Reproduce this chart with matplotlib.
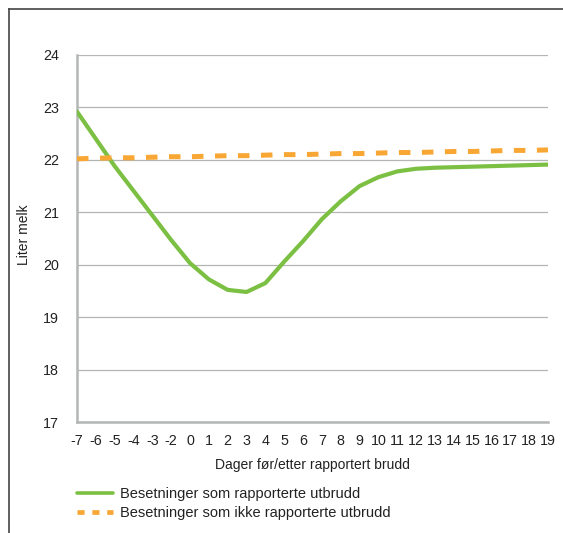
import matplotlib.pyplot as plt
from matplotlib.lines import Line2D
import numpy as np

plt.rcParams['font.family'] = ['Liberation Sans', 'DejaVu Sans']

# dager foer/etter rapportert brudd (aksen hopper over -1)
dager = ['-7', '-6', '-5', '-4', '-3', '-2', '0', '1', '2', '3', '4', '5', '6',
         '7', '8', '9', '10', '11', '12', '13', '14', '15', '16', '17', '18', '19']

# liter melk
med_utbrudd = [22.92, 22.40, 21.88, 21.41, 20.94, 20.47, 20.03, 19.72, 19.52,
               19.48, 19.65, 20.06, 20.45, 20.87, 21.21, 21.50, 21.67, 21.78,
               21.83, 21.85, 21.86, 21.87, 21.88, 21.89, 21.90, 21.91]
uten_utbrudd = [22.02, 22.03, 22.04, 22.04, 22.05, 22.06, 22.06, 22.07, 22.08,
                22.08, 22.09, 22.10, 22.10, 22.11, 22.12, 22.12, 22.13, 22.14,
                22.14, 22.15, 22.16, 22.16, 22.17, 22.18, 22.18, 22.19]

serie_navn = ['Besetninger som rapporterte utbrudd',
              'Besetninger som ikke rapporterte utbrudd']

tekst = '#222222'
grid = '#b4b6b6'

fig = plt.figure(figsize=(5.63, 5.33), dpi=100)
ax = fig.add_axes([77/563, 1 - 422/533, (548 - 77)/563, (422 - 55)/533])

x = np.arange(len(dager))
ax.plot(x, med_utbrudd, color='#7cc043', lw=3.0, solid_joinstyle='round',
        solid_capstyle='round', label=serie_navn[0], zorder=3)
ax.plot(x, uten_utbrudd, color='#f9a734', lw=3.6, dashes=(2.3, 2.3),
        dash_capstyle='butt', label=serie_navn[1], zorder=3)

ax.set_xlim(0, len(dager) - 1)
ax.set_ylim(17, 24)
ax.set_xticks(x)
ax.set_xticklabels(dager)
ax.set_yticks(range(17, 25))
ax.tick_params(length=0, labelsize=10.3, labelcolor=tekst)
ax.tick_params(axis='y', pad=13)
ax.tick_params(axis='x', pad=8.5)

ax.yaxis.grid(True, color=grid, lw=0.9)
ax.set_axisbelow(True)
for s in ['top', 'right']:
    ax.spines[s].set_visible(False)
for s in ['left', 'bottom']:
    ax.spines[s].set_color(grid)
    ax.spines[s].set_linewidth(1.8)

ax.set_xlabel('Dager før/etter rapportert brudd', fontsize=10, color=tekst, labelpad=7)
ax.set_ylabel('Liter melk', fontsize=10, color=tekst)
ax.yaxis.set_label_coords(-0.097, 0.51)

leg = fig.legend(loc='upper left', bbox_to_anchor=(77/563, 1 - 487/533),
                 frameon=False, fontsize=10.5, handlelength=2.5, handletextpad=0.42,
                 labelspacing=0.33, borderpad=0, borderaxespad=0, labelcolor=tekst)
leg.get_lines()[0].set_linewidth(2.6)
leg.get_lines()[1].set_dashes((1.5, 1.65))
leg.get_lines()[1].set_linewidth(3.4)

# ramme rundt figuren
fig.add_artist(Line2D([9/563, 1], [1 - 9/533, 1 - 9/533], color='#444444', lw=1.2))
fig.add_artist(Line2D([9/563, 9/563], [0, 1 - 9/533], color='#444444', lw=1.2))

fig.savefig('out.png', dpi=100)
